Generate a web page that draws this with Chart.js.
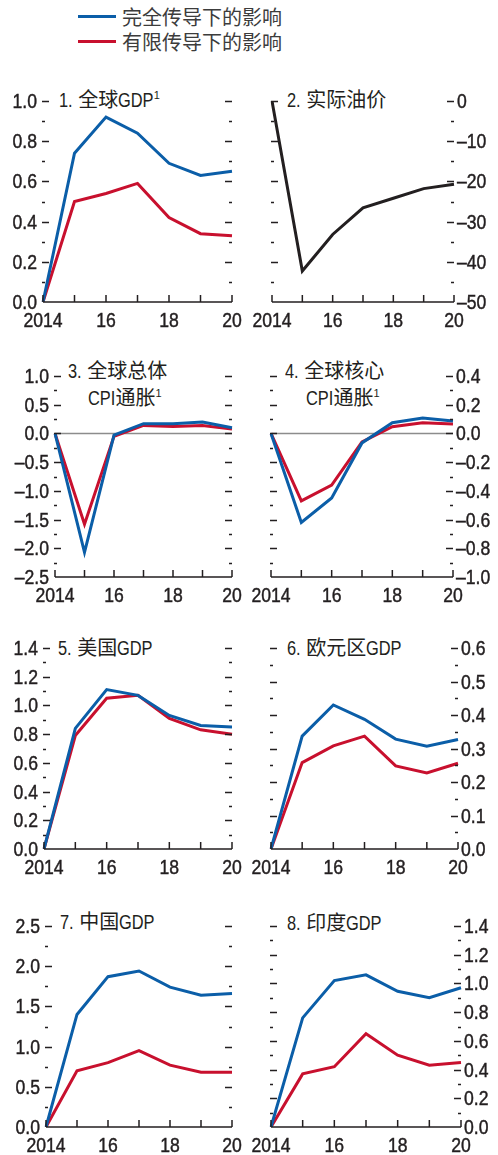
<!DOCTYPE html>
<html>
<head>
<meta charset="utf-8">
<script src="https://cdn.jsdelivr.net/npm/chart.js@4"></script>
<style>
  body { margin: 0; background: #fff; width: 498px; height: 1155px; position: relative; overflow: hidden; }
  canvas { position: absolute; }
  .t { position: absolute; font: 20px/20px "Liberation Sans", "Noto Sans CJK SC", sans-serif; color: #231f20; white-space: nowrap; }
  .t sup { font-size: 11px; vertical-align: 8px; line-height: 0; }
  .n { display: inline-block; transform: scaleX(0.82); transform-origin: 0 0; }
  .key { position: absolute; left: 78px; width: 38px; height: 3px; }
  .kt { position: absolute; left: 122px; font: 20px/20px "Noto Sans CJK SC", sans-serif; color: #3c3c3c; white-space: nowrap; }
</style>
</head>
<body>
<div class="key" style="top:15px;background:#0b5ea8"></div>
<div class="kt" style="top:7px">完全传导下的影响</div>
<div class="key" style="top:40px;background:#c8102e"></div>
<div class="kt" style="top:32px">有限传导下的影响</div>

<div class="t" style="left:59px;top:90px"><span class="n">1.</span> 全球<span class="n">GDP</span><sup>1</sup></div>
<div class="t" style="left:287px;top:90px"><span class="n">2.</span> 实际油价</div>
<div class="t" style="left:68px;top:361px"><span class="n">3.</span> 全球总体</div>
<div class="t" style="left:88px;top:388px"><span class="n">CPI</span>通胀<sup>1</sup></div>
<div class="t" style="left:285px;top:361px"><span class="n">4.</span> 全球核心</div>
<div class="t" style="left:306px;top:388px"><span class="n">CPI</span>通胀<sup>1</sup></div>
<div class="t" style="left:58px;top:638px"><span class="n">5.</span> 美国<span class="n">GDP</span></div>
<div class="t" style="left:287px;top:638px"><span class="n">6.</span> 欧元区<span class="n">GDP</span></div>
<div class="t" style="left:60px;top:912px"><span class="n">7.</span> 中国<span class="n">GDP</span></div>
<div class="t" style="left:287px;top:913px"><span class="n">8.</span> 印度<span class="n">GDP</span></div>

<script>
// years on the horizontal axis, only every other one is labelled
const years = [2014, 2015, 2016, 2017, 2018, 2019, 2020];
const yearLabels = ['2014', '', '16', '', '18', '', '20'];

// 1. world GDP
const worldGdpFull = [0, 0.74, 0.92, 0.84, 0.69, 0.63, 0.65];
const worldGdpLimited = [0, 0.50, 0.54, 0.59, 0.42, 0.34, 0.33];
// 2. real oil price
const oilPrice = [0, -42.3, -33.2, -26.6, -24.2, -21.8, -20.7];
// 3. world headline CPI inflation
const headlineCpiFull = [0, -2.07, -0.03, 0.17, 0.17, 0.20, 0.10];
const headlineCpiLimited = [0, -1.58, -0.05, 0.14, 0.12, 0.14, 0.075];
// 4. world core CPI inflation
const coreCpiFull = [0, -0.62, -0.45, -0.066, 0.075, 0.108, 0.087];
const coreCpiLimited = [0, -0.47, -0.36, -0.059, 0.047, 0.075, 0.066];
// 5. US GDP
const usGdpFull = [0, 0.84, 1.11, 1.07, 0.93, 0.86, 0.85];
const usGdpLimited = [0, 0.79, 1.05, 1.07, 0.91, 0.83, 0.80];
// 6. euro area GDP
const euroGdpFull = [0, 0.337, 0.43, 0.387, 0.328, 0.307, 0.327];
const euroGdpLimited = [0, 0.258, 0.308, 0.337, 0.248, 0.227, 0.256];
// 7. China GDP
const chinaGdpFull = [0, 1.40, 1.87, 1.94, 1.74, 1.64, 1.66];
const chinaGdpLimited = [0, 0.70, 0.80, 0.95, 0.77, 0.68, 0.68];
// 8. India GDP
const indiaGdpFull = [0, 0.76, 1.02, 1.06, 0.945, 0.90, 0.97];
const indiaGdpLimited = [0, 0.37, 0.42, 0.65, 0.50, 0.43, 0.45];

const BLUE = '#0b5ea8';
const RED = '#c8102e';
const BLACK = '#231f20';
const INK = '#231f20';
const FONT = '20px "Liberation Sans", Arial, sans-serif';
const NARROW = 0.88;   // squeeze the tick labels to a condensed look
const PANEL_W = 249;

// the Latin parts of the titles are squeezed, pull the following text back
document.querySelectorAll('.n').forEach(el => {
    el.style.marginRight = (-0.18 * el.offsetWidth) + 'px';
});

function narrowText(ctx, str, x, y, align) {
    ctx.save();
    ctx.translate(x, y);
    ctx.scale(NARROW, 1);
    ctx.textAlign = align;
    ctx.textBaseline = 'alphabetic';
    ctx.fillText(str, 0, 0);
    ctx.lineWidth = 0.45;
    ctx.strokeText(str, 0, 0);
    ctx.restore();
}

// inward tick marks on both sides, baseline with year ticks, tick labels, optional zero line
const tickMarks = {
    id: 'tickMarks',
    beforeDatasetsDraw(chart, args, opts) {
        if (!opts.zero) return;
        const { ctx, chartArea: a, scales: { y } } = chart;
        const z = Math.round(y.getPixelForValue(0)) + 0.5;
        ctx.save();
        ctx.strokeStyle = '#8c8c8c';
        ctx.lineWidth = 1.3;
        ctx.beginPath();
        ctx.moveTo(a.left, z);
        ctx.lineTo(a.right, z);
        ctx.stroke();
        ctx.restore();
    },
    afterDraw(chart, args, opts) {
        const { ctx, chartArea: a, scales: { x, y } } = chart;
        ctx.save();
        ctx.strokeStyle = INK;
        ctx.lineWidth = 1.5;
        ctx.beginPath();
        ctx.moveTo(a.left, a.bottom);
        ctx.lineTo(a.right, a.bottom);
        x.ticks.forEach((t, i) => {
            const px = x.getPixelForTick(i);
            ctx.moveTo(px, a.bottom);
            ctx.lineTo(px, a.bottom - 7);
        });
        y.ticks.forEach((t, i) => {
            if (t.value === y.min) return;
            const py = Math.round(y.getPixelForTick(i)) + 0.5;
            const len = t.label ? 7 : 3;
            ctx.moveTo(a.left - 1, py);
            ctx.lineTo(a.left - 1 + len, py);
            ctx.moveTo(a.right - len, py);
            ctx.lineTo(a.right, py);
        });
        ctx.stroke();

        ctx.font = FONT;
        ctx.fillStyle = INK;
        ctx.strokeStyle = INK;
        x.ticks.forEach((t, i) => {
            if (t.label) narrowText(ctx, t.label, x.getPixelForTick(i), a.bottom + 25, 'center');
        });
        const right = opts.side === 'right';
        y.ticks.forEach((t, i) => {
            if (!t.label) return;
            const py = y.getPixelForTick(i) + 7;
            if (right) narrowText(ctx, t.label, a.right + 3, py, 'left');
            else narrowText(ctx, t.label, a.left - 6, py, 'right');
        });
        ctx.restore();
    }
};

function panel(p) {
    const cv = document.createElement('canvas');
    cv.width = PANEL_W;
    cv.height = p.B - p.T + 44;
    cv.style.left = p.x0 + 'px';
    cv.style.top = (p.T - 14) + 'px';
    document.body.appendChild(cv);

    const left = p.side === 'left';
    const axisW = left ? p.L - p.x0 : p.x0 + PANEL_W - p.R;

    new Chart(cv, {
        type: 'line',
        data: {
            labels: years,
            datasets: p.series.map(s => ({
                data: s.data,
                borderColor: s.color,
                borderWidth: 3,
                pointRadius: 0,
                tension: 0,
                fill: false
            }))
        },
        options: {
            responsive: false,
            animation: false,
            layout: {
                padding: {
                    left: left ? 0 : p.L - p.x0,
                    right: left ? p.x0 + PANEL_W - p.R : 0,
                    top: 14,
                    bottom: 0
                }
            },
            plugins: {
                legend: { display: false },
                tooltip: { enabled: false },
                tickMarks: { zero: !!p.zero, side: p.side }
            },
            scales: {
                x: {
                    grid: { display: false },
                    border: { display: false },
                    ticks: {
                        display: false,
                        autoSkip: false,
                        callback: (v, i) => yearLabels[i]
                    },
                    afterFit: s => { s.height = 30; }
                },
                y: {
                    position: p.side,
                    min: p.min,
                    max: p.max,
                    grid: { display: false },
                    border: { display: false },
                    ticks: {
                        display: false,
                        stepSize: p.minor,
                        autoSkip: false,
                        callback: v => {
                            const r = v / p.major;
                            if (Math.abs(r - Math.round(r)) > 1e-6) return '';
                            if (Math.abs(v) < 1e-9) v = 0;
                            return v.toFixed(p.digits).replace('-', '–');
                        }
                    },
                    afterFit: s => { s.width = axisW; }
                }
            }
        },
        plugins: [tickMarks]
    });
}

panel({ x0: 0, L: 43, R: 232, T: 101, B: 302, side: 'left', min: 0, max: 1.0, minor: 0.1, major: 0.2, digits: 1,
    series: [{ data: worldGdpFull, color: BLUE }, { data: worldGdpLimited, color: RED }] });
panel({ x0: 249, L: 272, R: 454, T: 101, B: 302, side: 'right', min: -50, max: 0, minor: 5, major: 10, digits: 0,
    series: [{ data: oilPrice, color: BLACK }] });
panel({ x0: 0, L: 55, R: 232, T: 376, B: 577, side: 'left', min: -2.5, max: 1.0, minor: 0.25, major: 0.5, digits: 1, zero: true,
    series: [{ data: headlineCpiFull, color: BLUE }, { data: headlineCpiLimited, color: RED }] });
panel({ x0: 249, L: 271, R: 453, T: 376, B: 577, side: 'right', min: -1.0, max: 0.4, minor: 0.1, major: 0.2, digits: 1, zero: true,
    series: [{ data: coreCpiFull, color: BLUE }, { data: coreCpiLimited, color: RED }] });
panel({ x0: 0, L: 44, R: 232, T: 648, B: 849, side: 'left', min: 0, max: 1.4, minor: 0.1, major: 0.2, digits: 1,
    series: [{ data: usGdpFull, color: BLUE }, { data: usGdpLimited, color: RED }] });
panel({ x0: 249, L: 271, R: 458, T: 648, B: 849, side: 'right', min: 0, max: 0.6, minor: 0.05, major: 0.1, digits: 1,
    series: [{ data: euroGdpFull, color: BLUE }, { data: euroGdpLimited, color: RED }] });
panel({ x0: 0, L: 46, R: 232, T: 926, B: 1127, side: 'left', min: 0, max: 2.5, minor: 0.25, major: 0.5, digits: 1,
    series: [{ data: chinaGdpFull, color: BLUE }, { data: chinaGdpLimited, color: RED }] });
panel({ x0: 249, L: 271, R: 461, T: 926, B: 1127, side: 'right', min: 0, max: 1.4, minor: 0.1, major: 0.2, digits: 1,
    series: [{ data: indiaGdpFull, color: BLUE }, { data: indiaGdpLimited, color: RED }] });
</script>
</body>
</html>
